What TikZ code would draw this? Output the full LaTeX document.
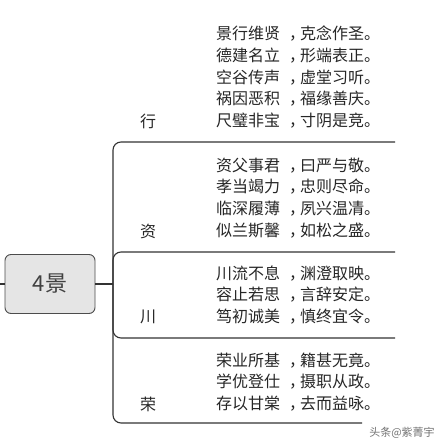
\documentclass[tikz,border=0pt]{standalone}
\usepackage{fontspec}
\newfontfamily\cjk{Noto Sans CJK SC}
\newcommand\dou{\kern9pt，\kern-5pt}
\begin{document}
\begin{tikzpicture}[x=1pt,y=-1pt,
  every node/.style={font=\cjk\fontsize{16}{21.8}\selectfont,text=black!85},
  branch/.style={draw=black!80,line width=1.1pt,rounded corners=8pt},
  verse/.style={align=left,anchor=west,inner sep=0pt},
  topic/.style={inner sep=0pt}]
  \useasboundingbox (0,0) rectangle (445,447);
  % root and trunk
  \node[draw=black!70,fill=black!10,rounded corners=6pt,line width=0.9pt,minimum width=90pt,minimum height=59pt,font=\cjk\fontsize{22}{26}\selectfont,text=black!75] (root) at (50,284) {4景};
  \coordinate (left) at (0,284);
  \coordinate (hub) at (113,284);
  \draw[branch] (left) -- (root);
  \draw[branch] (root) -- (hub);
  % branch ends
  \coordinate (xingend) at (395,142);
  \coordinate (ziend) at (395,252);
  \coordinate (chuanend) at (395,338);
  \coordinate (rongend) at (362,423);
  \draw[branch] (hub) |- (xingend);
  \draw[branch] (hub) |- (ziend);
  \draw[branch] (hub) |- (chuanend);
  \draw[branch] (hub) |- (rongend);
  % topics
  \node[topic] (xing) at (148,121) {行};
  \node[topic] (zi) at (148,231) {资};
  \node[topic] (chuan) at (148,317) {川};
  \node[topic] (rong) at (148,404) {荣};
  % verses
  \node[verse] (xingtext) at (216,77) {景行维贤\dou 克念作圣。\\德建名立\dou 形端表正。\\空谷传声\dou 虚堂习听。\\祸因恶积\dou 福缘善庆。\\尺璧非宝\dou 寸阴是竞。};
  \node[verse] (zitext) at (216,198) {资父事君\dou 曰严与敬。\\孝当竭力\dou 忠则尽命。\\临深履薄\dou 夙兴温凊。\\似兰斯馨\dou 如松之盛。};
  \node[verse] (chuantext) at (216,295) {川流不息\dou 渊澄取映。\\容止若思\dou 言辞安定。\\笃初诚美\dou 慎终宜令。};
  \node[verse] (rongtext) at (216,382) {荣业所基\dou 籍甚无竟。\\学优登仕\dou 摄职从政。\\存以甘棠\dou 去而益咏。};
  \node[font=\cjk\fontsize{11}{13}\selectfont,text=black!55] (mark) at (402,433) {头条@紫菁宇};
\end{tikzpicture}
\end{document}
